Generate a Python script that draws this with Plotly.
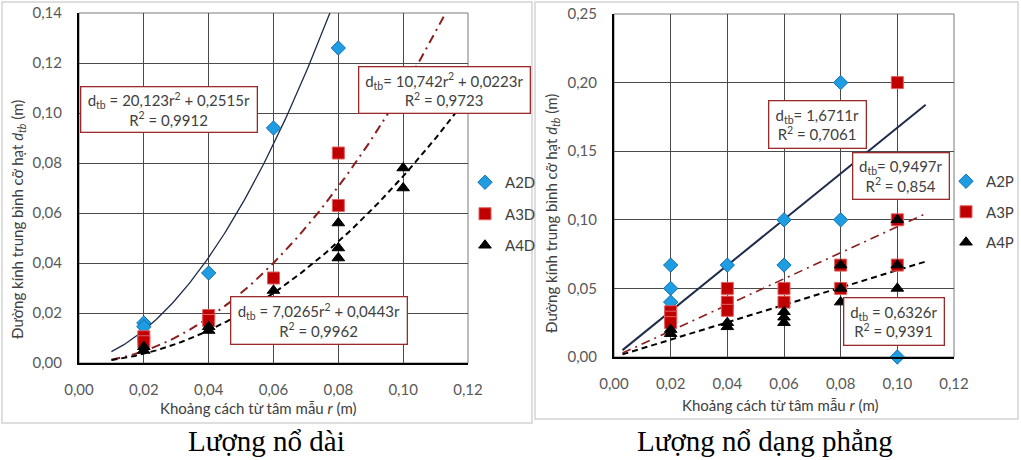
import numpy as np
import plotly.graph_objects as go

W, H = 1021, 460

# ---- Lượng nổ dài (elongated charge) ----
A2D_r = [0.02, 0.02, 0.04, 0.06, 0.08]
A2D_d = [0.016, 0.0145, 0.036, 0.094, 0.126]
A3D_r = [0.02, 0.02, 0.04, 0.04, 0.06, 0.08, 0.08]
A3D_d = [0.0105, 0.0085, 0.019, 0.017, 0.034, 0.063, 0.084]
A4D_r = [0.02, 0.02, 0.04, 0.04, 0.06, 0.08, 0.08, 0.08, 0.10, 0.10]
A4D_d = [0.0065, 0.005, 0.0145, 0.013, 0.029, 0.056, 0.046, 0.042, 0.078, 0.070]

# quadratic fits d = a*r^2 + b*r
A2D_fit = (20.123, 0.2515)
A3D_fit = (10.742, 0.0223)
A4D_fit = (7.0265, 0.0443)

# ---- Lượng nổ dạng phẳng (planar charge) ----
A2P_r = [0.02, 0.02, 0.02, 0.04, 0.06, 0.06, 0.08, 0.08, 0.10]
A2P_d = [0.067, 0.05, 0.04, 0.067, 0.10, 0.067, 0.20, 0.10, 0.0]
A3P_r = [0.02, 0.02, 0.02, 0.04, 0.04, 0.04, 0.06, 0.06, 0.08, 0.08, 0.10, 0.10, 0.10]
A3P_d = [0.033, 0.029, 0.025, 0.05, 0.04, 0.034, 0.05, 0.04, 0.067, 0.05, 0.20, 0.10, 0.067]
A4P_r = [0.02, 0.02, 0.04, 0.04, 0.06, 0.06, 0.06, 0.08, 0.08, 0.08, 0.10, 0.10, 0.10]
A4P_d = [0.02, 0.017, 0.025, 0.022, 0.033, 0.029, 0.025, 0.067, 0.05, 0.04, 0.10, 0.067, 0.05]

# linear fits through origin d = k*r
A2P_k = 1.6711
A3P_k = 0.9497
A4P_k = 0.6326

FONT = "Lato"
TXT = "#404040"
TICK = "#595959"
GRID = "#4A4A4A"
NAVY = "#1F2B4A"
DRED = "#8B1E1E"
BLUE = "#1E9DE3"
RED = "#C00000"


def px_x(x):
    return x / W


def px_y(y):
    return 1 - y / H


fig = go.Figure()

# trendlines
rq = np.linspace(0.01, 0.12, 200)
rl = np.linspace(0.003, 0.11, 50)
fig.add_trace(go.Scatter(x=rq, y=A2D_fit[0] * rq**2 + A2D_fit[1] * rq, mode="lines",
                         line=dict(color=NAVY, width=1.3), showlegend=False, xaxis="x", yaxis="y"))
fig.add_trace(go.Scatter(x=rq, y=A3D_fit[0] * rq**2 + A3D_fit[1] * rq, mode="lines",
                         line=dict(color=DRED, width=2, dash="9px,5px,2px,5px"), showlegend=False, xaxis="x", yaxis="y"))
fig.add_trace(go.Scatter(x=rq, y=A4D_fit[0] * rq**2 + A4D_fit[1] * rq, mode="lines",
                         line=dict(color="black", width=2, dash="6px,4px"), showlegend=False, xaxis="x", yaxis="y"))
fig.add_trace(go.Scatter(x=rl, y=A2P_k * rl, mode="lines",
                         line=dict(color=NAVY, width=2), showlegend=False, xaxis="x2", yaxis="y2"))
fig.add_trace(go.Scatter(x=rl, y=A3P_k * rl, mode="lines",
                         line=dict(color=DRED, width=1.6, dash="9px,5px,2px,5px"), showlegend=False, xaxis="x2", yaxis="y2"))
fig.add_trace(go.Scatter(x=rl, y=A4P_k * rl, mode="lines",
                         line=dict(color="black", width=2, dash="6px,4px"), showlegend=False, xaxis="x2", yaxis="y2"))

# measured points
def pts(name, r, d, sym, color, size, lcol, ax, leg, grp):
    fig.add_trace(go.Scatter(
        x=r, y=d, mode="markers", name=name, cliponaxis=False,
        marker=dict(symbol=sym, color=color, size=size, line=dict(color=lcol, width=1)),
        xaxis=ax[0], yaxis=ax[1], legend=leg, legendgroup=grp))


pts("A2D", A2D_r, A2D_d, "diamond", BLUE, 11, "#1070B0", ("x", "y"), "legend", "g1")
pts("A3D", A3D_r, A3D_d, "square", RED, 12, "#E06060", ("x", "y"), "legend", "g2")
pts("A4D", A4D_r, A4D_d, "triangle-up", "black", 11, "black", ("x", "y"), "legend", "g3")
pts("A2P", A2P_r, A2P_d, "diamond", BLUE, 11, "#1070B0", ("x2", "y2"), "legend2", "h1")
pts("A3P", A3P_r, A3P_d, "square", RED, 12, "#E06060", ("x2", "y2"), "legend2", "h2")
pts("A4P", A4P_r, A4P_d, "triangle-up", "black", 11, "black", ("x2", "y2"), "legend2", "h3")

axis_common = dict(
    showgrid=True, gridcolor=GRID, gridwidth=1, zeroline=False,
    showline=True, linecolor="black", linewidth=2, ticks="",
    tickformat=".2f", tickfont=dict(family=FONT, size=15, color=TICK),
    ticklabelstandoff=12, fixedrange=True, automargin=False,
)

fig.update_layout(
    width=W, height=H, margin=dict(l=0, r=0, t=0, b=0, pad=0, autoexpand=False),
    paper_bgcolor="white", plot_bgcolor="white",
    separators=",.",
    xaxis=dict(domain=[px_x(79), px_x(468)], range=[0, 0.12], dtick=0.02, anchor="y", **axis_common),
    yaxis=dict(domain=[px_y(363), px_y(13)], range=[0, 0.14], dtick=0.02, anchor="x", **axis_common),
    xaxis2=dict(domain=[px_x(614), px_x(954)], range=[0, 0.12], dtick=0.02, anchor="y2", **axis_common),
    yaxis2=dict(domain=[px_y(357), px_y(14)], range=[0, 0.25], dtick=0.05, anchor="x2", **axis_common),
    legend=dict(x=px_x(465), y=px_y(166), xanchor="left", yanchor="top",
                font=dict(family=FONT, size=15, color=TXT), tracegroupgap=9,
                bgcolor="rgba(0,0,0,0)", itemwidth=30),
    legend2=dict(x=px_x(946), y=px_y(165), xanchor="left", yanchor="top",
                 font=dict(family=FONT, size=15, color=TXT), tracegroupgap=8,
                 bgcolor="rgba(0,0,0,0)", itemwidth=30),
)

shapes = []
# outer frames around each panel
shapes.append(dict(type="rect", xref="paper", yref="paper", x0=px_x(2), x1=px_x(532),
                   y0=px_y(423), y1=px_y(2), line=dict(color="#D4D4D4", width=1.5)))
shapes.append(dict(type="rect", xref="paper", yref="paper", x0=px_x(535), x1=px_x(1018),
                   y0=px_y(419), y1=px_y(2), line=dict(color="#D4D4D4", width=1.5)))
# plot-area borders (top/right)
shapes.append(dict(type="rect", xref="x domain", yref="y domain", x0=0, x1=1, y0=0, y1=1,
                   line=dict(color="#7A7A7A", width=1), layer="below"))
shapes.append(dict(type="rect", xref="x2 domain", yref="y2 domain", x0=0, x1=1, y0=0, y1=1,
                   line=dict(color="#7A7A7A", width=1), layer="below"))
fig.update_layout(shapes=shapes)

ann = []


def eq_box(text, x0, x1, y0, y1):
    ann.append(dict(
        text=text, xref="paper", yref="paper", x=px_x(x0), y=px_y(y0),
        xanchor="left", yanchor="top", showarrow=False, align="center",
        width=x1 - x0 - 4, height=y1 - y0 - 4, borderpad=1,
        bordercolor="#9B2B2B", borderwidth=1.3, bgcolor="white",
        font=dict(family=FONT, size=15, color=TXT)))


eq_box("d<sub>tb</sub> = 20,123r<sup>2</sup> + 0,2515r<br>R<sup>2</sup> = 0,9912", 80, 257, 86, 132)
eq_box("d<sub>tb</sub>= 10,742r<sup>2</sup> + 0,0223r<br>R<sup>2</sup> = 0,9723", 358, 530, 66, 113)
eq_box("d<sub>tb</sub> = 7,0265r<sup>2</sup> + 0,0443r<br>R<sup>2</sup> = 0,9962", 230, 407, 296, 344)
eq_box("d<sub>tb</sub>= 1,6711r<br>R<sup>2</sup> = 0,7061", 768, 866, 100, 148)
eq_box("d<sub>tb</sub>= 0,9497r<br>R<sup>2</sup> = 0,854", 852, 949, 152, 199)
eq_box("d<sub>tb</sub> = 0,6326r<br>R<sup>2</sup> = 0,9391", 843, 944, 297, 345)

ytitle = "Đường kính trung bình cỡ hạt <i>d<sub>tb</sub></i> (m)"
xtitle = "Khoảng cách từ tâm mẫu <i>r</i> (m)"
for (xc, yc) in [(18, 220), (552, 214)]:
    ann.append(dict(text=ytitle, xref="paper", yref="paper", x=px_x(xc), y=px_y(yc),
                    xanchor="center", yanchor="middle", textangle=-90, showarrow=False,
                    font=dict(family=FONT, size=15, color=TXT)))
for (xc, yc) in [(258, 408), (780, 405)]:
    ann.append(dict(text=xtitle, xref="paper", yref="paper", x=px_x(xc), y=px_y(yc),
                    xanchor="center", yanchor="middle", showarrow=False,
                    font=dict(family=FONT, size=15, color=TXT)))

for (txt, xc) in [("Lượng nổ dài", 266), ("Lượng nổ dạng phẳng", 765)]:
    ann.append(dict(text=txt, xref="paper", yref="paper", x=px_x(xc), y=px_y(441),
                    xanchor="center", yanchor="middle", showarrow=False,
                    font=dict(family="Liberation Serif", size=29, color="black")))

fig.update_layout(annotations=ann)

fig.write_html("out.html")
